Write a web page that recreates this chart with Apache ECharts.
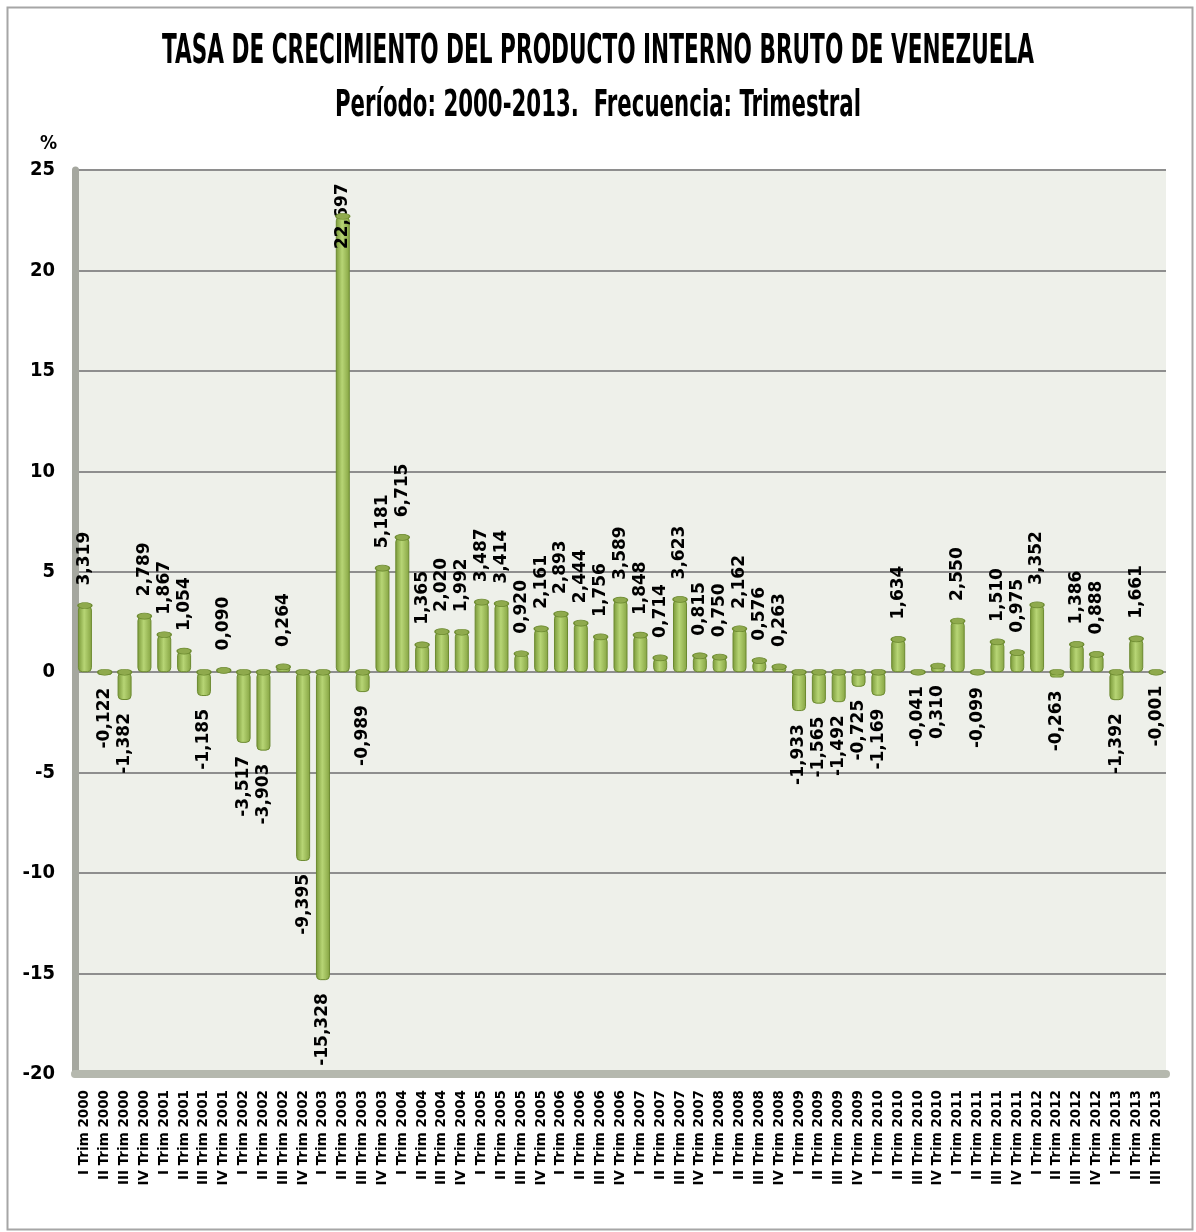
<!DOCTYPE html>
<html>
<head>
<meta charset="utf-8">
<title>PIB Venezuela</title>
<script src="https://cdn.jsdelivr.net/npm/echarts@6/dist/echarts.min.js"></script>
<style>
html,body{margin:0;padding:0;background:#fff;}
#grafico{width:1196px;height:1232px;}
</style>
</head>
<body>
<div id="grafico"></div>
<script>
// trimestres (eje x)
var trimestres = [
	"I Trim 2000","II Trim 2000","III Trim 2000","IV Trim 2000",
	"I Trim 2001","II Trim 2001","III Trim 2001","IV Trim 2001",
	"I Trim 2002","II Trim 2002","III Trim 2002","IV Trim 2002",
	"I Trim 2003","II Trim 2003","III Trim 2003","IV Trim 2003",
	"I Trim 2004","II Trim 2004","III Trim 2004","IV Trim 2004",
	"I Trim 2005","II Trim 2005","III Trim 2005","IV Trim 2005",
	"I Trim 2006","II Trim 2006","III Trim 2006","IV Trim 2006",
	"I Trim 2007","II Trim 2007","III Trim 2007","IV Trim 2007",
	"I Trim 2008","II Trim 2008","III Trim 2008","IV Trim 2008",
	"I Trim 2009","II Trim 2009","III Trim 2009","IV Trim 2009",
	"I Trim 2010","II Trim 2010","III Trim 2010","IV Trim 2010",
	"I Trim 2011","II Trim 2011","III Trim 2011","IV Trim 2011",
	"I Trim 2012","II Trim 2012","III Trim 2012","IV Trim 2012",
	"I Trim 2013","II Trim 2013","III Trim 2013"
];
// tasa de crecimiento (%)
var tasa = [
	3.319,-0.122,-1.382,2.789,
	1.867,1.054,-1.185,0.090,
	-3.517,-3.903,0.264,-9.395,
	-15.328,22.697,-0.989,5.181,
	6.715,1.365,2.020,1.992,
	3.487,3.414,0.920,2.161,
	2.893,2.444,1.756,3.589,
	1.848,0.714,3.623,0.815,
	0.750,2.162,0.576,0.263,
	-1.933,-1.565,-1.492,-0.725,
	-1.169,1.634,-0.041,0.310,
	2.550,-0.099,1.510,0.975,
	3.352,-0.263,1.386,0.888,
	-1.392,1.661,-0.001
];
// marcas del eje y
var ejeY = {min:-20, max:25, intervalo:5};
// etiquetas que el original coloca debajo del eje
var etiquetasAbajo = ["IV Trim 2010"];

var FUENTE_TITULO = "'DejaVu Sans Condensed','Liberation Sans Narrow',sans-serif";
var FUENTE = "'DejaVu Sans',Verdana,sans-serif";

function coma(v){
	return v.toFixed(3).replace(".", ",");
}

//el titulo original es una letra estrecha: se mide y se comprime en x
function titulo(texto, size, ancho, cy){
	var ctx = document.createElement('canvas').getContext('2d');
	ctx.font = 'bold ' + size + 'px ' + FUENTE_TITULO;
	var w = ctx.measureText(texto).width;
	var sx = ancho / w;
	return {
		type:'text', x:598, y:cy, scaleX:sx, scaleY:1,
		style:{
			text:texto, font:'bold ' + size + 'px ' + FUENTE_TITULO,
			fill:'#000', align:'center', verticalAlign:'middle'
		}
	};
}

var maximo = Math.max.apply(null, tasa);
var barras = [], tapas = [];
for(var i=0;i<tasa.length;i++){
	var v = tasa[i];
	var lbl;
	if(v === maximo){
		lbl = {position:'top', align:'center', distance:0};
	}else if(v < 0 || etiquetasAbajo.indexOf(trimestres[i]) >= 0){
		lbl = {position:'bottom', align:'right', distance:13};
	}else{
		lbl = {position:'top', align:'left', distance:20};
	}
	barras.push({value:v, label:lbl});
	//tapa del cilindro: arriba en positivos, en el cero en negativos
	tapas.push([trimestres[i], v >= 0 ? v : 0]);
}

var chart = echarts.init(document.getElementById('grafico'));
var option = {
	backgroundColor:'#ffffff',
	animation:false,
	title:{
		text:'%',
		left:35, top:130,
		textStyle:{fontFamily:FUENTE_TITULO, fontSize:19, fontWeight:'bold', color:'#000'}
	},
	graphic:[{
		type:'rect', left:5, top:5, z:-10,
		shape:{width:1185, height:1222},
		style:{fill:'none', stroke:'#a6a6a6', lineWidth:2}
	},
	titulo('TASA DE CRECIMIENTO DEL PRODUCTO INTERNO BRUTO DE VENEZUELA', 40, 872, 53),
	titulo('Período: 2000-2013.  Frecuencia: Trimestral', 38, 526, 106)
	],
	grid:{
		left:75, right:30, top:170, bottom:158,
		show:true, backgroundColor:'#eef0ea', borderWidth:0
	},
	xAxis:{
		type:'category',
		data:trimestres,
		axisLine:{onZero:false, lineStyle:{color:'#b5b8ae', width:8}},
		axisTick:{show:false},
		axisLabel:{
			interval:0, rotate:90, margin:16,
			fontFamily:FUENTE, fontSize:13.5, fontWeight:'bold', color:'#000'
		}
	},
	yAxis:{
		type:'value',
		min:ejeY.min, max:ejeY.max, interval:ejeY.intervalo,
		axisLine:{show:true, lineStyle:{color:'#a5a79f', width:7}},
		axisTick:{show:false},
		splitLine:{lineStyle:{color:'#8e8e8e', width:2}},
		axisLabel:{
			margin:20, fontFamily:FUENTE_TITULO, fontSize:20, fontWeight:'bold', color:'#000'
		}
	},
	series:[{
		name:'Tasa',
		type:'bar',
		data:barras,
		barWidth:14,
		itemStyle:{
			borderRadius:4,
			borderColor:'#6c8a30', borderWidth:1,
			color:new echarts.graphic.LinearGradient(0,0,1,0,[
				{offset:0, color:'#789737'},
				{offset:0.45, color:'#b7d575'},
				{offset:1, color:'#85a342'}
			])
		},
		label:{
			show:true, rotate:90, verticalAlign:'middle',
			fontFamily:FUENTE, fontSize:17, fontWeight:'bold', color:'#000',
			formatter:function(p){ return coma(p.value); }
		},
		z:2
	},{
		name:'Tapa',
		type:'scatter',
		data:tapas,
		symbol:'circle',
		symbolSize:[14,6],
		itemStyle:{color:'#8faa4d', borderColor:'#6c8a30', borderWidth:1, opacity:1},
		silent:true,
		z:3
	}]
};
chart.setOption(option);
</script>
</body>
</html>
